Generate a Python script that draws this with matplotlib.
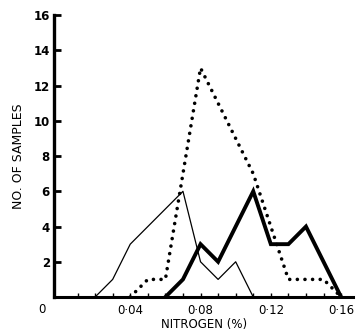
import numpy as np
import matplotlib
matplotlib.use('Agg')
import matplotlib.pyplot as plt
import matplotlib.transforms as mtransforms


# class mid-points (% nitrogen) and number of samples in each class
thin_x = [0.02, 0.03, 0.04, 0.05, 0.06, 0.07, 0.08, 0.09, 0.10, 0.11]
thin_y = [0, 1, 3, 4, 5, 6, 2, 1, 2, 0]

dotted_x = [0.04, 0.05, 0.06, 0.07, 0.08, 0.09, 0.10, 0.11, 0.12, 0.13,
            0.14, 0.15, 0.16]
dotted_y = [0, 1, 1, 7, 13, 11, 9, 7, 4, 1, 1, 1, 0]

thick_x = [0.06, 0.07, 0.08, 0.09, 0.10, 0.11, 0.12, 0.13, 0.14, 0.15, 0.16]
thick_y = [0, 1, 3, 2, 4, 6, 3, 3, 4, 2, 0]

x_ticks = [0.04, 0.08, 0.12, 0.16]
x_labels = ['0\u00b704', '0\u00b708', '0\u00b712', '0\u00b716']
y_ticks = [2, 4, 6, 8, 10, 12, 14, 16]

plt.rcParams['font.family'] = ['DejaVu Sans']

fig = plt.figure(figsize=(3.61, 3.36), dpi=100)
ax = fig.add_axes([0.15, 0.116, 0.828, 0.839])

ax.plot(thin_x, thin_y, color='black', lw=0.9)
ax.plot(dotted_x, dotted_y, color='black', lw=2.6,
        linestyle=(0, (0.01, 2.1)), dash_capstyle='round')
ax.plot(thick_x, thick_y, color='black', lw=2.8, solid_joinstyle='miter')

ax.set_xlim(-0.0033, 0.1668)
ax.set_ylim(0, 16)

ax.spines['top'].set_visible(False)
ax.spines['right'].set_visible(False)
ax.spines['left'].set_linewidth(2.4)
ax.spines['bottom'].set_linewidth(2.2)

ax.set_yticks(y_ticks)
ax.set_yticklabels([str(v) for v in y_ticks], fontsize=8.5,
                   fontweight='bold')
ax.tick_params(axis='y', direction='in', length=5, width=2, pad=3)

ax.set_xticks(x_ticks)
ax.set_xticklabels(x_labels, fontsize=8.5)
ax.set_xticks(np.arange(0.01, 0.165, 0.01), minor=True)
ax.tick_params(axis='x', which='both', direction='in', length=3,
               width=1, pad=5)

# the shared origin label
trans = mtransforms.blended_transform_factory(ax.transAxes, ax.transAxes)
ax.text(-0.04, -0.045, '0', transform=trans, fontsize=8.5,
        ha='center', va='center')

ax.set_xlabel('NITROGEN (%)', fontsize=8.5, labelpad=1)
ax.set_ylabel('NO. OF SAMPLES', fontsize=9, labelpad=6)

fig.savefig('out.png', dpi=100)
plt.close()
